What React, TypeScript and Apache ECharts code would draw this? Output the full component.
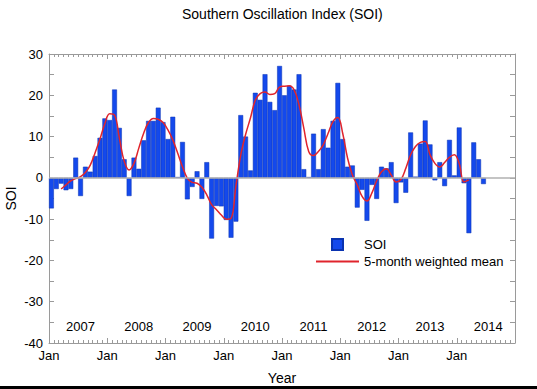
import React, { useEffect, useRef } from 'react';
import * as echarts from 'echarts';

const years = ['2007', '2008', '2009', '2010', '2011', '2012', '2013', '2014'];
const monthCodes = ['01', '02', '03', '04', '05', '06', '07', '08', '09', '10', '11', '12'];
const categories = years.flatMap((y) => monthCodes.map((m) => `${y}-${m}`));

const soi2007 = [-7.4, -2.7, -1.4, -3.0, -2.7, 4.9, -4.4, 2.7, 1.5, 5.3, 9.7, 14.4];
const soi2008 = [14.0, 21.4, 12.1, 4.5, -4.4, 4.9, 2.2, 9.1, 13.8, 13.8, 17.0, 13.5];
const soi2009 = [9.4, 14.8, 0.2, 8.7, -5.2, -2.2, 1.6, -5.1, 3.8, -14.7, -6.8, -6.9];
const soi2010 = [-10.2, -14.5, -10.6, 15.2, 10.0, 1.8, 20.6, 18.9, 25.1, 18.4, 16.4, 27.1];
const soi2011 = [20.0, 22.3, 21.4, 25.1, 2.1, 0.2, 10.7, 2.1, 11.8, 7.3, 13.8, 23.0];
const soi2012 = [9.4, 2.7, 3.0, -7.2, -2.9, -10.4, -1.7, -5.1, 2.7, 2.3, 3.8, -6.1];
const soi2013 = [-1.1, -3.6, 11.0, 0.3, 8.3, 13.9, 8.1, -0.6, 3.8, -2.0, 9.2, 0.6];
const soi2014 = [12.2, -1.3, -13.4, 8.6, 4.5, -1.5];
const soiValues = [...soi2007, ...soi2008, ...soi2009, ...soi2010, ...soi2011, ...soi2012, ...soi2013, ...soi2014];

const mean2007 = [null, null, -2.7, -1.7, -0.7, -0.2, 0.3, 1.3, 3.1, 6.1, 9.4, 13.1];
const mean2008 = [15.5, 15.2, 9.6, 4.0, 1.9, 3.5, 7.2, 10.8, 13.4, 14.4, 14.2, 13.4];
const mean2009 = [11.6, 9.2, 6.0, 2.7, -0.1, -1.1, -1.3, -2.3, -4.1, -6.5, -7.7, -9.0];
const mean2010 = [-10.0, -9.8, -2.0, 5.5, 10.5, 14.5, 18.8, 20.4, 20.8, 20.2, 20.4, 22.0];
const mean2011 = [22.2, 22.3, 21.3, 17.7, 12.0, 6.4, 5.4, 6.4, 8.0, 10.8, 13.6, 14.6];
const mean2012 = [10.8, 4.8, 0.7, -1.7, -4.5, -5.6, -3.7, -0.7, 1.5, 2.2, 0.7, -1.0];
const mean2013 = [-0.4, 2.3, 5.6, 7.6, 8.6, 8.8, 5.6, 3.5, 2.6, 3.7, 5.0, 5.6];
const mean2014 = [3.5, -1.0, -0.5];
const meanValues = [...mean2007, ...mean2008, ...mean2009, ...mean2010, ...mean2011, ...mean2012, ...mean2013, ...mean2014];

const yTicks = { min: -40, max: 30, interval: 10 };
const FONT = '"Liberation Sans", Arial, Helvetica, sans-serif';
const AXIS_GRAY = '#9a9a9a';
const BLUE = '#1449ec';
const RED = '#e0242c';

export default function App() {
  const ref = useRef<HTMLDivElement>(null);

  useEffect(() => {
    if (!ref.current) return;
    const chart = echarts.init(ref.current, undefined, { renderer: 'svg' });
    const monthAxisBase = {
      type: 'value',
      min: 0,
      max: categories.length,
      interval: 12,
      axisLine: { show: true, onZero: false, lineStyle: { color: AXIS_GRAY, width: 1 } },
      axisTick: { show: true, inside: true, length: 5, lineStyle: { color: AXIS_GRAY } },
      minorTick: { show: true, splitNumber: 12, length: 3, lineStyle: { color: AXIS_GRAY } },
      splitLine: { show: false },
      minorSplitLine: { show: false },
    };
    const valueAxisBase = {
      type: 'value',
      min: yTicks.min,
      max: yTicks.max,
      interval: yTicks.interval,
      axisLine: { show: true, onZero: false, lineStyle: { color: AXIS_GRAY, width: 1 } },
      axisTick: { show: true, inside: true, length: 5, lineStyle: { color: AXIS_GRAY } },
      minorTick: { show: true, splitNumber: 2, length: 5, lineStyle: { color: AXIS_GRAY } },
      splitLine: { show: false },
      minorSplitLine: { show: false },
    };
    chart.setOption({
      animation: false,
      backgroundColor: '#ffffff',
      textStyle: { fontFamily: FONT, color: '#000' },
      title: {
        text: 'Southern Oscillation Index (SOI)',
        left: 177,
        top: 2,
        textStyle: { fontFamily: FONT, fontSize: 14, fontWeight: 'normal', color: '#000' },
      },
      grid: { left: 49, right: 22, top: 54, bottom: 46, containLabel: false, outerBoundsMode: 'none' },
      legend: {
        orient: 'vertical',
        left: 310,
        top: 233,
        itemWidth: 43,
        itemHeight: 11,
        itemGap: 4,
        selectedMode: false,
        data: [
          { name: 'SOI', icon: 'path://M0 0H10V10H0Z' },
          { name: '5-month weighted mean', itemStyle: { opacity: 0 } },
        ],
        textStyle: { fontFamily: FONT, fontSize: 13, color: '#000' },
      },
      xAxis: [
        {
          type: 'category',
          data: categories,
          position: 'bottom',
          boundaryGap: true,
          axisLine: { show: false, onZero: false },
          axisTick: { show: false },
          axisLabel: {
            inside: true,
            margin: 10,
            interval: (index: number) => index % 12 === 6,
            formatter: (v: string) => v.slice(0, 4),
            fontFamily: FONT,
            fontSize: 13,
            color: '#000',
          },
          splitLine: { show: false },
        },
        {
          ...monthAxisBase,
          position: 'bottom',
          axisLabel: {
            margin: 6,
            showMaxLabel: false,
            formatter: (v: number) => (v < categories.length ? 'Jan' : ''),
            fontFamily: FONT,
            fontSize: 13,
            color: '#000',
          },
          name: 'Year',
          nameLocation: 'middle',
          nameGap: 28,
          nameTextStyle: { fontFamily: FONT, fontSize: 14, color: '#000' },
        },
        {
          ...monthAxisBase,
          position: 'top',
          axisLabel: { show: false },
        },
      ],
      yAxis: [
        {
          ...valueAxisBase,
          position: 'left',
          axisLabel: { margin: 6, fontFamily: FONT, fontSize: 13, color: '#000' },
          name: 'SOI',
          nameLocation: 'middle',
          nameGap: 31,
          nameMoveOverlap: false,
          nameTextStyle: { fontFamily: FONT, fontSize: 14, color: '#000' },
        },
        {
          ...valueAxisBase,
          position: 'right',
          axisLabel: { show: false },
        },
      ],
      graphic: [
        { type: 'rect', left: 0, bottom: 0, shape: { width: 537, height: 3 }, style: { fill: '#000' } },
      ],
      series: [
        {
          type: 'line',
          name: 'zero',
          data: [],
          xAxisIndex: 0,
          yAxisIndex: 0,
          z: 1,
          silent: true,
          markLine: {
            silent: true,
            symbol: 'none',
            label: { show: false },
            lineStyle: { color: '#b0b0b0', width: 1.5, type: 'solid' },
            data: [{ yAxis: 0 }],
          },
        },
        {
          type: 'bar',
          name: 'SOI',
          data: soiValues,
          xAxisIndex: 0,
          yAxisIndex: 0,
          barCategoryGap: '0%',
          z: 2,
          itemStyle: { color: BLUE, borderColor: '#0a33b0', borderWidth: 0.5 },
        },
        {
          type: 'line',
          name: '5-month weighted mean',
          data: meanValues,
          xAxisIndex: 0,
          yAxisIndex: 0,
          smooth: 0.4,
          symbol: 'none',
          connectNulls: false,
          z: 3,
          lineStyle: { color: RED, width: 1.5 },
          itemStyle: { color: RED },
        },
      ],
    });
    return () => chart.dispose();
  }, []);

  return <div ref={ref} style={{ position: 'fixed', left: 0, top: 0, width: 537, height: 389 }} />;
}
